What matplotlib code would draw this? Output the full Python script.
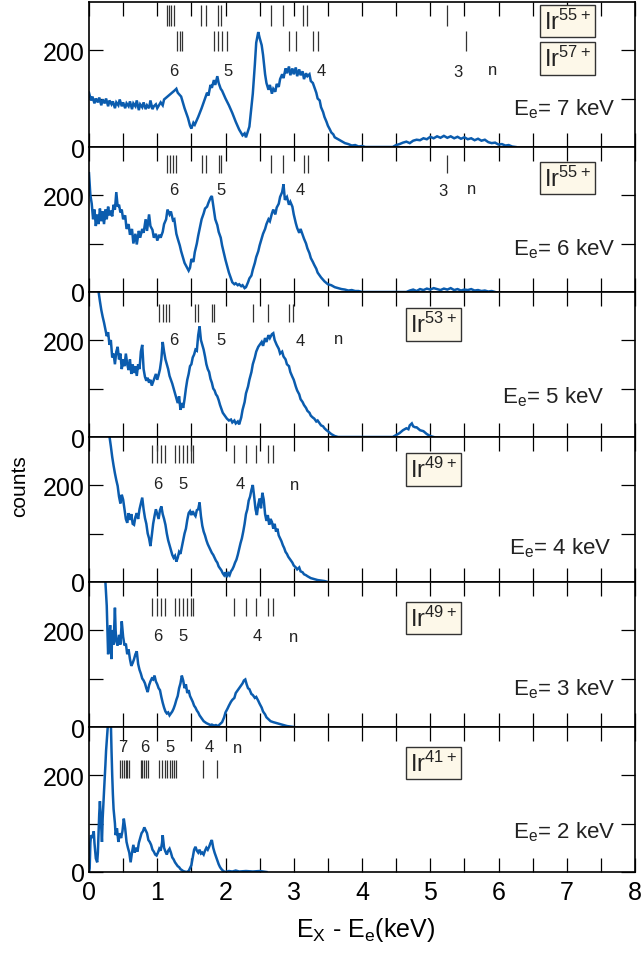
import numpy as np
import matplotlib
matplotlib.use("Agg")
import matplotlib.pyplot as plt

plt.rcParams['font.family'] = ['Liberation Sans', 'DejaVu Sans']
plt.rcParams['mathtext.fontset'] = 'custom'
plt.rcParams['mathtext.rm'] = 'Liberation Sans'

# ---------------- spectra (keV, counts) ----------------
e7 = [0.00, 0.03, 0.05, 0.08, 0.10, 0.13, 0.15, 0.18, 0.20, 0.23, 0.25, 0.28, 0.30, 0.33, 0.35, 0.38, 0.40, 0.43, 0.45, 0.48,
      0.50, 0.53, 0.55, 0.58, 0.60, 0.63, 0.65, 0.68, 0.70, 0.73, 0.75, 0.78, 0.80, 0.83, 0.85, 0.88, 0.90, 0.93, 0.95, 0.98,
      1.00, 1.05, 1.08, 1.10, 1.15, 1.20, 1.25, 1.28, 1.30, 1.35, 1.40, 1.45, 1.48, 1.50, 1.53, 1.55, 1.60, 1.65, 1.70, 1.73,
      1.75, 1.78, 1.80, 1.83, 1.85, 1.88, 1.90, 1.93, 1.95, 2.00, 2.05, 2.10, 2.15, 2.20, 2.25, 2.28, 2.30, 2.35, 2.40, 2.43,
      2.45, 2.48, 2.50, 2.53, 2.55, 2.58, 2.60, 2.63, 2.65, 2.68, 2.70, 2.73, 2.75, 2.78, 2.80, 2.83, 2.85, 2.88, 2.90, 2.93,
      2.95, 2.98, 3.00, 3.03, 3.05, 3.08, 3.10, 3.13, 3.15, 3.18, 3.20, 3.23, 3.25, 3.28, 3.30, 3.33, 3.35, 3.38, 3.40, 3.43,
      3.45, 3.48, 3.50, 3.53, 3.55, 3.58, 3.60, 3.65, 3.70, 3.75, 3.80, 3.85, 3.90, 3.95, 4.00, 4.05, 4.45, 4.50, 4.55, 4.60,
      4.65, 4.70, 4.75, 4.80, 4.85, 4.90, 4.95, 5.00, 5.05, 5.10, 5.15, 5.20, 5.25, 5.30, 5.35, 5.40, 5.45, 5.50, 5.55, 5.60,
      5.65, 5.70, 5.75, 5.80, 5.85, 5.90, 5.95, 6.00, 6.05, 6.10, 6.15, 6.20, 6.25]
c7 = [112, 96, 104, 90, 100, 92, 102, 86, 98, 90, 100, 84, 96, 88, 94, 80, 92, 86, 98, 84,
      92, 80, 90, 84, 94, 78, 90, 84, 96, 76, 88, 82, 92, 78, 86, 80, 96, 78, 84, 88,
      80, 92, 86, 98, 104, 110, 116, 120, 112, 104, 80, 60, 44, 38, 50, 46, 62, 80, 100, 112,
      106, 128, 122, 138, 128, 146, 132, 120, 116, 100, 86, 70, 52, 36, 24, 28, 20, 42, 110, 170,
      215, 237, 225, 210, 190, 150, 132, 118, 128, 110, 120, 114, 130, 124, 140, 150, 142, 162, 152, 166,
      148, 162, 150, 164, 146, 160, 148, 156, 140, 152, 146, 150, 136, 132, 124, 112, 100, 96, 82, 72,
      62, 52, 44, 36, 30, 26, 20, 16, 12, 8, 6, 3, 4, 1, 2, 0, 0, 4, 6, 9,
      11, 8, 13, 15, 14, 18, 16, 21, 18, 22, 19, 23, 19, 22, 18, 21, 17, 20, 16, 18,
      14, 17, 13, 15, 10, 8, 9, 5, 6, 3, 4, 1, 0]

e6 = [0.00, 0.02, 0.04, 0.06, 0.08, 0.10, 0.12, 0.14, 0.16, 0.18, 0.20, 0.22, 0.24, 0.26, 0.28, 0.30, 0.32, 0.34, 0.36, 0.38,
      0.40, 0.42, 0.44, 0.46, 0.48, 0.50, 0.53, 0.55, 0.58, 0.60, 0.63, 0.65, 0.68, 0.70, 0.73, 0.75, 0.78, 0.80, 0.83, 0.85,
      0.88, 0.90, 0.93, 0.95, 0.98, 1.00, 1.03, 1.05, 1.08, 1.10, 1.13, 1.15, 1.18, 1.20, 1.23, 1.25, 1.28, 1.30, 1.33, 1.35,
      1.38, 1.40, 1.43, 1.46, 1.48, 1.50, 1.53, 1.55, 1.58, 1.60, 1.63, 1.65, 1.68, 1.70, 1.73, 1.75, 1.78, 1.80, 1.83, 1.85,
      1.88, 1.90, 1.93, 1.95, 1.98, 2.00, 2.03, 2.05, 2.08, 2.10, 2.13, 2.15, 2.18, 2.20, 2.23, 2.25, 2.28, 2.30, 2.33, 2.35,
      2.38, 2.40, 2.43, 2.45, 2.48, 2.50, 2.53, 2.55, 2.58, 2.60, 2.63, 2.65, 2.68, 2.70, 2.73, 2.75, 2.78, 2.80, 2.83, 2.85,
      2.87, 2.90, 2.93, 2.95, 2.98, 3.00, 3.03, 3.05, 3.08, 3.10, 3.13, 3.15, 3.18, 3.20, 3.23, 3.25, 3.28, 3.30, 3.33, 3.35,
      3.40, 3.45, 3.50, 3.55, 3.60, 3.65, 3.70, 3.75, 3.80, 3.85, 3.90, 3.95, 4.00, 4.65, 4.70, 4.75, 4.80, 4.85, 4.90, 4.95,
      5.00, 5.05, 5.10, 5.15, 5.20, 5.25, 5.30, 5.35, 5.40, 5.45, 5.50, 5.55, 5.60, 5.65, 5.70, 5.75, 5.80, 5.85, 5.90, 5.95]
c6 = [245, 200, 182, 150, 170, 136, 160, 140, 172, 146, 166, 140, 170, 150, 176, 158, 168, 156, 180, 170,
      206, 176, 180, 164, 170, 150, 158, 130, 140, 118, 130, 100, 120, 98, 126, 112, 130, 122, 150, 126,
      160, 136, 128, 112, 120, 106, 118, 112, 124, 140, 150, 170, 160, 166, 148, 150, 120, 110, 96, 84,
      70, 60, 52, 44, 50, 68, 62, 82, 100, 116, 136, 150, 162, 172, 176, 184, 194, 198, 170, 150,
      138, 124, 112, 96, 78, 66, 50, 40, 28, 20, 16, 18, 14, 16, 12, 14, 8, 10, 20, 28,
      34, 46, 60, 72, 84, 96, 110, 120, 130, 140, 150, 146, 162, 170, 160, 174, 182, 196, 206, 222,
      190, 196, 180, 186, 176, 160, 142, 132, 122, 130, 118, 110, 100, 90, 80, 70, 62, 56, 48, 40,
      30, 22, 16, 14, 10, 8, 6, 5, 3, 4, 2, 2, 0, 0, 3, 5, 2, 6, 4, 7,
      5, 8, 6, 4, 7, 5, 8, 4, 6, 3, 5, 4, 6, 3, 4, 2, 3, 1, 2, 0]

e5 = [0.14, 0.16, 0.18, 0.20, 0.22, 0.24, 0.26, 0.28, 0.30, 0.32, 0.34, 0.36, 0.38, 0.40, 0.42, 0.44, 0.46, 0.48, 0.50, 0.52,
      0.54, 0.56, 0.58, 0.60, 0.62, 0.64, 0.66, 0.68, 0.70, 0.72, 0.74, 0.76, 0.78, 0.80, 0.82, 0.84, 0.86, 0.88, 0.90, 0.92,
      0.94, 0.96, 0.98, 1.00, 1.02, 1.04, 1.06, 1.08, 1.10, 1.12, 1.14, 1.16, 1.18, 1.20, 1.22, 1.24, 1.26, 1.28, 1.30, 1.32,
      1.34, 1.36, 1.38, 1.40, 1.42, 1.44, 1.46, 1.48, 1.50, 1.52, 1.54, 1.56, 1.58, 1.60, 1.62, 1.64, 1.66, 1.68, 1.70, 1.72,
      1.74, 1.76, 1.78, 1.80, 1.82, 1.84, 1.86, 1.88, 1.90, 1.92, 1.94, 1.96, 1.98, 2.00, 2.02, 2.05, 2.08, 2.10, 2.13, 2.15,
      2.18, 2.20, 2.23, 2.25, 2.28, 2.30, 2.33, 2.35, 2.38, 2.40, 2.43, 2.45, 2.48, 2.50, 2.53, 2.55, 2.58, 2.60, 2.63, 2.65,
      2.68, 2.70, 2.72, 2.75, 2.78, 2.80, 2.83, 2.85, 2.88, 2.90, 2.93, 2.95, 2.98, 3.00, 3.03, 3.05, 3.08, 3.10, 3.13, 3.15,
      3.18, 3.20, 3.23, 3.25, 3.28, 3.30, 3.33, 3.35, 3.38, 3.40, 3.43, 3.45, 3.48, 3.50, 3.55, 3.60, 3.65, 4.45, 4.50, 4.55,
      4.60, 4.65, 4.68, 4.70, 4.73, 4.75, 4.78, 4.80, 4.85, 4.90, 4.95, 5.00, 5.05]
c5 = [300, 280, 262, 248, 236, 222, 208, 216, 190, 200, 164, 172, 150, 176, 186, 160, 172, 140, 160, 146,
      172, 150, 138, 160, 130, 150, 132, 146, 126, 150, 140, 176, 190, 140, 124, 116, 122, 112, 118, 106,
      114, 122, 130, 118, 128, 140, 160, 196, 176, 160, 150, 140, 126, 118, 110, 100, 90, 80, 70, 84,
      56, 70, 60, 78, 100, 118, 130, 146, 150, 164, 170, 180, 178, 210, 228, 200, 190, 180, 166, 150,
      140, 134, 120, 112, 100, 96, 88, 84, 76, 66, 58, 50, 46, 42, 38, 34, 36, 30, 34, 28,
      32, 26, 40, 56, 72, 90, 104, 118, 134, 150, 164, 176, 186, 190, 196, 188, 204, 196, 210, 204,
      212, 214, 200, 190, 182, 172, 176, 166, 160, 150, 146, 134, 124, 118, 104, 96, 88, 78, 72, 66,
      60, 54, 50, 44, 40, 38, 32, 34, 28, 24, 22, 18, 14, 12, 6, 2, 0, 0, 4, 8,
      14, 18, 16, 24, 28, 22, 20, 20, 14, 12, 6, 2, 0]

e4 = [0.30, 0.32, 0.34, 0.36, 0.38, 0.40, 0.42, 0.44, 0.46, 0.48, 0.50, 0.52, 0.54, 0.56, 0.58, 0.60, 0.62, 0.64, 0.66, 0.68,
      0.70, 0.72, 0.74, 0.76, 0.78, 0.80, 0.82, 0.84, 0.86, 0.88, 0.90, 0.92, 0.94, 0.96, 0.98, 1.00, 1.02, 1.04, 1.06, 1.08,
      1.10, 1.12, 1.14, 1.16, 1.18, 1.20, 1.22, 1.24, 1.26, 1.28, 1.30, 1.32, 1.34, 1.36, 1.38, 1.40, 1.42, 1.44, 1.46, 1.48,
      1.50, 1.52, 1.54, 1.56, 1.58, 1.60, 1.62, 1.64, 1.66, 1.68, 1.70, 1.72, 1.74, 1.76, 1.78, 1.80, 1.82, 1.84, 1.86, 1.88,
      1.90, 1.92, 1.94, 1.96, 1.98, 2.00, 2.02, 2.04, 2.06, 2.08, 2.10, 2.12, 2.14, 2.16, 2.18, 2.20, 2.22, 2.24, 2.26, 2.28,
      2.30, 2.32, 2.34, 2.36, 2.38, 2.40, 2.42, 2.44, 2.46, 2.48, 2.50, 2.52, 2.54, 2.56, 2.58, 2.60, 2.62, 2.64, 2.66, 2.68,
      2.70, 2.72, 2.74, 2.76, 2.78, 2.80, 2.82, 2.84, 2.86, 2.88, 2.90, 2.92, 2.94, 2.96, 2.98, 3.00, 3.03, 3.05, 3.08, 3.10,
      3.13, 3.15, 3.18, 3.20, 3.25, 3.30, 3.35, 3.40, 3.45, 3.50]
c4 = [300, 280, 258, 240, 224, 210, 198, 176, 162, 180, 170, 150, 130, 122, 142, 128, 140, 120, 118, 134,
      142, 130, 150, 162, 174, 150, 132, 120, 100, 90, 74, 96, 120, 136, 150, 140, 130, 148, 156, 140,
      130, 118, 100, 86, 76, 66, 56, 50, 54, 42, 50, 62, 58, 72, 86, 100, 110, 128, 142, 146,
      138, 146, 140, 136, 148, 150, 164, 136, 116, 104, 96, 86, 78, 72, 66, 60, 56, 50, 44, 40,
      32, 28, 24, 18, 14, 20, 10, 18, 14, 22, 26, 32, 40, 46, 56, 68, 80, 90, 104, 120,
      140, 150, 168, 176, 190, 200, 176, 150, 138, 160, 172, 152, 184, 170, 140, 126, 138, 118, 130, 124,
      110, 120, 104, 110, 96, 90, 84, 76, 70, 62, 58, 52, 48, 44, 40, 34, 30, 26, 30, 22,
      20, 16, 14, 12, 8, 6, 4, 3, 2, 0]

e3 = [0.24, 0.26, 0.27, 0.28, 0.30, 0.31, 0.32, 0.33, 0.34, 0.35, 0.36, 0.38, 0.39, 0.40, 0.42, 0.44, 0.46, 0.48, 0.50, 0.52,
      0.54, 0.56, 0.58, 0.60, 0.62, 0.64, 0.66, 0.68, 0.70, 0.72, 0.74, 0.76, 0.78, 0.80, 0.82, 0.84, 0.86, 0.88, 0.90, 0.92,
      0.94, 0.96, 0.98, 1.00, 1.02, 1.04, 1.06, 1.08, 1.10, 1.12, 1.14, 1.16, 1.18, 1.20, 1.22, 1.24, 1.26, 1.28, 1.30, 1.32,
      1.34, 1.36, 1.38, 1.40, 1.42, 1.44, 1.46, 1.48, 1.50, 1.52, 1.54, 1.56, 1.58, 1.60, 1.62, 1.64, 1.66, 1.68, 1.70, 1.72,
      1.75, 1.78, 1.80, 1.83, 1.86, 1.89, 1.92, 1.95, 1.98, 2.00, 2.03, 2.05, 2.08, 2.10, 2.13, 2.15, 2.18, 2.20, 2.22, 2.25,
      2.27, 2.29, 2.31, 2.33, 2.35, 2.38, 2.40, 2.43, 2.45, 2.48, 2.50, 2.53, 2.55, 2.58, 2.60, 2.63, 2.66, 2.70, 2.75, 2.80,
      2.85, 2.90, 2.95, 3.00]
c3 = [300, 250, 200, 150, 190, 210, 160, 140, 200, 190, 170, 246, 200, 176, 168, 190, 170, 218, 186, 168,
      172, 150, 160, 140, 126, 132, 140, 150, 156, 130, 118, 110, 100, 96, 90, 80, 72, 86, 94, 100,
      98, 106, 94, 88, 80, 76, 62, 50, 40, 32, 28, 30, 24, 28, 32, 38, 46, 56, 64, 80,
      90, 106, 96, 80, 88, 70, 76, 64, 58, 52, 44, 40, 34, 30, 24, 20, 16, 12, 10, 8,
      6, 4, 5, 3, 4, 2, 6, 10, 20, 30, 38, 44, 52, 56, 60, 70, 76, 80, 84, 90,
      96, 98, 88, 80, 78, 68, 66, 60, 62, 54, 48, 40, 32, 26, 20, 16, 12, 10, 8, 6,
      4, 2, 1, 0]

e2 = [0.00, 0.01, 0.02, 0.03, 0.05, 0.07, 0.08, 0.10, 0.12, 0.13, 0.15, 0.16, 0.18, 0.19, 0.20, 0.22, 0.24, 0.25, 0.27, 0.28,
      0.32, 0.33, 0.34, 0.35, 0.36, 0.38, 0.39, 0.41, 0.43, 0.45, 0.47, 0.49, 0.51, 0.53, 0.55, 0.57, 0.59, 0.61, 0.63, 0.65,
      0.67, 0.69, 0.71, 0.73, 0.75, 0.77, 0.79, 0.81, 0.83, 0.85, 0.87, 0.89, 0.91, 0.93, 0.95, 0.97, 0.99, 1.01, 1.03, 1.05,
      1.07, 1.08, 1.10, 1.12, 1.14, 1.16, 1.18, 1.20, 1.22, 1.24, 1.26, 1.28, 1.30, 1.32, 1.34, 1.36, 1.38, 1.40, 1.43, 1.46,
      1.48, 1.50, 1.52, 1.54, 1.56, 1.58, 1.60, 1.62, 1.64, 1.66, 1.68, 1.70, 1.72, 1.74, 1.76, 1.78, 1.80, 1.82, 1.84, 1.86,
      1.88, 1.90, 1.92, 1.94, 1.96, 1.98, 2.00, 2.05, 2.10, 2.15, 2.20, 2.30, 2.40, 2.50, 2.60]
c2 = [0, 8, 60, 76, 70, 84, 60, 28, 20, 40, 120, 146, 90, 62, 110, 166, 220, 250, 290, 310,
      310, 250, 200, 160, 130, 100, 76, 90, 62, 80, 70, 84, 110, 90, 62, 50, 40, 20, 40, 56,
      40, 50, 42, 60, 70, 80, 84, 92, 86, 80, 66, 62, 56, 46, 42, 36, 34, 40, 48, 44,
      60, 76, 50, 42, 36, 44, 48, 40, 30, 26, 20, 16, 12, 10, 6, 4, 2, 1, 0, 2,
      8, 14, 30, 46, 52, 44, 40, 46, 38, 40, 36, 44, 50, 46, 52, 60, 66, 50, 40, 32,
      24, 16, 10, 6, 3, 1, 0, 2, 1, 3, 1, 2, 1, 2, 0]

energies = [e7, e6, e5, e4, e3, e2]
counts = [c7, c6, c5, c4, c3, c2]
beam_labels = ['7', '6', '5', '4', '3', '2']
ion_labels = [['55+', '57+'], ['55+'], ['53+'], ['49+'], ['49+'], ['41+']]

# Rydberg line markers: (positions in keV, y range in counts)
lines_49 = [0.93, 0.99, 1.05, 1.11, 1.26, 1.32, 1.38, 1.44, 1.50, 1.53, 2.12, 2.30, 2.45, 2.63, 2.70]
markers = [
    [([1.14, 1.17, 1.20, 1.24, 1.64, 1.71, 1.89, 1.93, 2.66, 2.84, 3.14, 3.20, 5.24], 250, 292),
     ([1.29, 1.33, 1.36, 1.83, 1.89, 1.95, 2.02, 2.93, 3.03, 3.28, 3.36, 5.53], 198, 240)],
    [([1.15, 1.19, 1.23, 1.27, 1.65, 1.72, 1.90, 1.94, 2.67, 2.84, 3.15, 3.21, 5.24], 245, 282)],
    [([1.03, 1.08, 1.13, 1.17, 1.55, 1.60, 1.80, 1.83, 2.41, 2.62, 2.93, 2.99], 238, 275)],
    [(lines_49, 245, 283)],
    [(lines_49, 228, 265)],
    [([0.46, 0.49, 0.51, 0.54, 0.56, 0.59, 0.76, 0.78, 0.81, 0.84, 0.87,
       1.03, 1.07, 1.12, 1.15, 1.18, 1.21, 1.24, 1.27, 1.67, 1.87], 193, 231)],
]
# n labels: (text, keV, counts)
n_labels = [
    [('6', 1.24, 158), ('5', 2.04, 158), ('4', 3.41, 158), ('3', 5.41, 155), ('n', 5.92, 160)],
    [('6', 1.24, 212), ('5', 1.93, 212), ('4', 3.09, 212), ('3', 5.18, 210), ('n', 5.60, 214)],
    [('6', 1.24, 202), ('5', 1.93, 202), ('4', 3.09, 200), ('n', 3.65, 204)],
    [('6', 1.01, 204), ('5', 1.38, 204), ('4', 2.21, 204), ('n', 3.01, 202)],
    [('6', 1.01, 188), ('5', 1.38, 188), ('4', 2.46, 188), ('n', 3.00, 186)],
    [('7', 0.50, 259), ('6', 0.81, 259), ('5', 1.18, 259), ('4', 1.76, 259), ('n', 2.17, 257)],
]
ion_pos = [[(7.01, 260), (7.01, 183)], [(7.01, 235)], [(5.05, 232)], [(5.05, 232)], [(5.05, 225)], [(5.05, 225)]]
beam_pos = [(7.71, 81), (7.71, 91), (7.55, 84), (7.65, 72), (7.71, 81), (7.71, 84)]

blue = '#0b5cae'

fig, axes = plt.subplots(6, 1, figsize=(6.41, 9.54), dpi=100, sharex=True)
fig.subplots_adjust(left=89/641, right=635/641, bottom=81/954, top=951/954, hspace=0)

for i, ax in enumerate(axes):
    ax.plot(energies[i], counts[i], color=blue, lw=1.8, solid_joinstyle='miter')
    for pos, y0, y1 in markers[i]:
        ax.vlines(pos, y0, y1, color='#333333', lw=0.9)
    for txt, x, y in n_labels[i]:
        ax.text(x, y, txt, ha='center', va='center', fontsize=12, color='#222222')
    for lab, (x, y) in zip(ion_labels[i], ion_pos[i]):
        ax.text(x, y, r'$\mathregular{Ir^{%s}}$' % lab, ha='center', va='center', fontsize=17,
                color='#222222',
                bbox=dict(boxstyle='square,pad=0.16', fc='#fdf8e9', ec='#333333', lw=1.0))
    bx, by = beam_pos[i]
    ax.text(bx, by, r'$\mathregular{E_e}$= %s keV' % beam_labels[i], ha='right', va='center',
            fontsize=16, color='#222222')

    ax.set_xlim(0, 8)
    ax.set_ylim(0, 299)
    ax.set_yticks([0, 100, 200])
    ax.set_yticklabels(['0', '', '200'])
    ax.set_xticks(np.arange(0, 8.01, 0.5))
    ax.tick_params(direction='in', length=10, width=0.9, top=True, right=True,
                   labelsize=18, pad=3)
    for s in ax.spines.values():
        s.set_linewidth(1.2)

axes[-1].set_xticklabels([('%d' % v) if v == int(v) else '' for v in np.arange(0, 8.01, 0.5)])
axes[-1].tick_params(axis='x', pad=6)

fig.text(0.03, 0.49, 'counts', rotation=90, ha='center', va='center', fontsize=15)
fig.text(0.57, 0.025, r'$\mathregular{E_X}$ - $\mathregular{E_e}$(keV)', ha='center', va='center',
         fontsize=18)

fig.savefig('out.png', dpi=100)
